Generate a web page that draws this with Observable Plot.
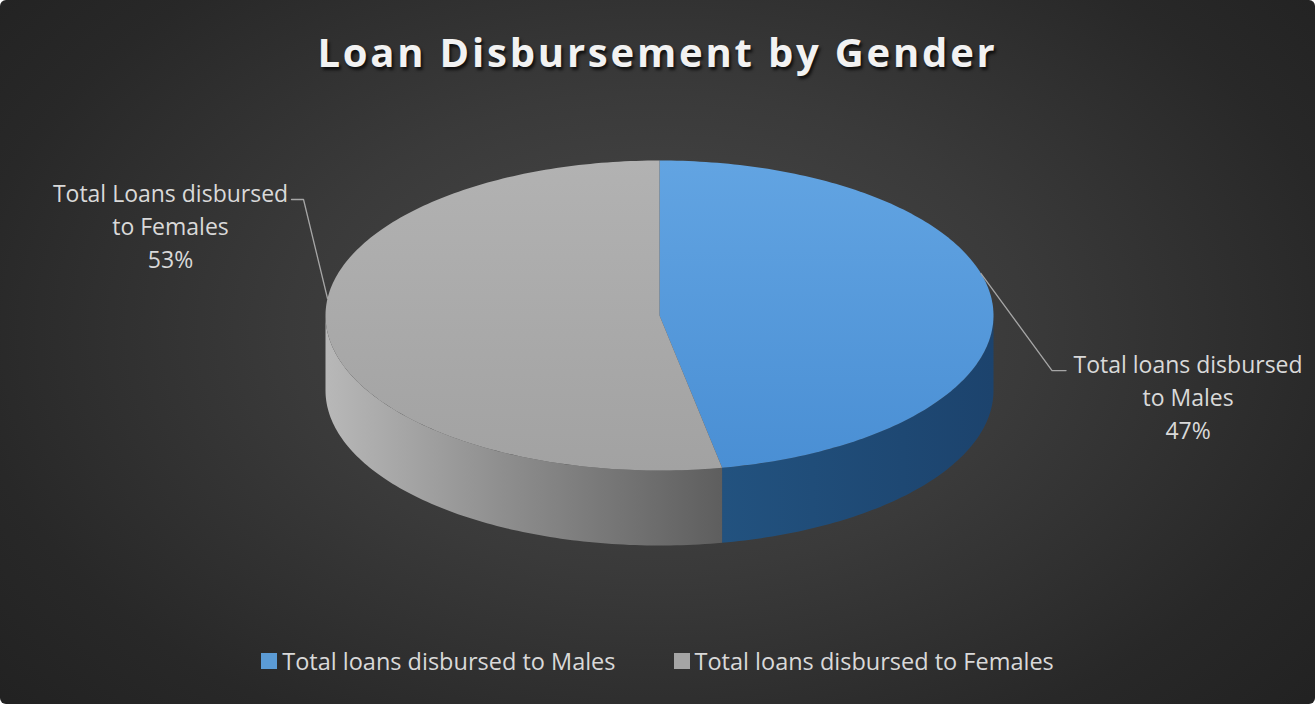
<!DOCTYPE html>
<html>
<head>
<meta charset="utf-8">
<script src="https://cdn.jsdelivr.net/npm/d3@7"></script>
<script src="https://cdn.jsdelivr.net/npm/@observablehq/plot@0.6"></script>
<style>
  html, body { margin: 0; padding: 0; background: #ffffff; }
  #chart {
    position: relative; width: 1315px; height: 704px; overflow: hidden; border-radius: 6px;
    background: radial-gradient(ellipse 70% 85% at 50% 47%, #4a4a4a 0%, #3a3a3a 40%, #282828 75%, #202020 100%);
    font-family: "Open Sans", sans-serif;
  }
  #title {
    height: 115px; box-sizing: border-box; padding-top: 32px; line-height: 40px;
    text-align: center; font-weight: 700; font-size: 40px; letter-spacing: 2.8px;
    color: #f2f2f2; text-shadow: 2px 3px 3px rgba(0,0,0,0.7);
  }
  #plot svg { display: block; }
  #legend {
    display: flex; justify-content: center; gap: 58px; padding-top: 19px;
    font-size: 23.5px; line-height: 24px; color: #d9d9d9;
  }
  .item { display: flex; align-items: center; }
  .sw { width: 16px; height: 16px; margin-right: 5px; }
</style>
</head>
<body>
<svg width="0" height="0" style="position:absolute">
  <defs>
    <linearGradient id="gTopM" x1="0" y1="0" x2="0" y2="1">
      <stop offset="0" stop-color="#62a4e2"/><stop offset="1" stop-color="#4a8fd4"/>
    </linearGradient>
    <linearGradient id="gTopF" x1="0" y1="0" x2="0" y2="1">
      <stop offset="0" stop-color="#b2b2b2"/><stop offset="1" stop-color="#a2a2a2"/>
    </linearGradient>
    <linearGradient id="gSideM" x1="0" y1="0" x2="1" y2="0">
      <stop offset="0" stop-color="#22527f"/><stop offset="1" stop-color="#1c436d"/>
    </linearGradient>
    <linearGradient id="gSideF" x1="0" y1="0" x2="1" y2="0">
      <stop offset="0" stop-color="#b8b8b8"/><stop offset="0.45" stop-color="#8e8e8e"/><stop offset="1" stop-color="#5e5e5e"/>
    </linearGradient>
    <filter id="blur" x="-20%" y="-20%" width="140%" height="140%">
      <feGaussianBlur stdDeviation="5"/>
    </filter>
  </defs>
</svg>
<div id="chart">
  <div id="title">Loan Disbursement by Gender</div>
  <div id="plot"></div>
  <div id="legend"></div>
</div>
<script>
// ---- data ----
const categories = ["Total loans disbursed to Males", "Total loans disbursed to Females"];
const shares = [47, 53];
const sliceLabels = ["Total loans disbursed\nto Males", "Total Loans disbursed\nto Females"];

// ---- styles ----
const swatchColors = ["#5b9bd5", "#a5a5a5"];
const topFills = ["url(#gTopM)", "url(#gTopF)"];
const sideFills = ["url(#gSideM)", "url(#gSideF)"];
// label layout (pixel offsets / angle nudges, degrees)
const labelLayout = [
  {nudge: -10.3, elbow: [71, 97], end: 14, text: [122, 25]},
  {nudge: 11.7, elbow: [-24, -99], end: -12, text: [-121, 25]}
];

const W = 1315, H = 515, mL = 325, mR = 322, mT = 45, mB = 160;
const RX = (W - mL - mR) / 2, RY = (H - mT - mB) / 2;
const DEPTH = 0.484;

const total = d3.sum(shares);
let acc = 0;
const slices = shares.map((v, i) => {
  const a0 = acc / total * 2 * Math.PI; acc += v;
  const a1 = acc / total * 2 * Math.PI;
  return {i, a0, a1, v};
});

function arcPts(a0, a1, yOff, id) {
  const n = Math.max(2, Math.ceil((a1 - a0) / (Math.PI / 180)));
  return d3.range(n + 1).map(k => {
    const a = a0 + (a1 - a0) * k / n;
    return {x: Math.sin(a), y: Math.cos(a) + yOff, id};
  });
}
const topPoly = s => [{x: 0, y: 0, id: s.i}, ...arcPts(s.a0, s.a1, 0, s.i)];
const sidePoly = s => {
  const b0 = Math.max(s.a0, Math.PI / 2), b1 = Math.min(s.a1, 3 * Math.PI / 2);
  if (b1 <= b0) return [];
  return [...arcPts(b0, b1, 0, s.i), ...arcPts(b0, b1, -DEPTH, s.i).reverse()];
};
const shadowPoly = [...arcPts(-Math.PI / 2, Math.PI / 2, -0.04, 0), ...arcPts(Math.PI / 2, 3 * Math.PI / 2, -DEPTH - 0.05, 0)];

// leader lines and labels
const leaders = [], labelPts = [];
slices.forEach((s, i) => {
  const L = labelLayout[i];
  const a = (s.a0 + s.a1) / 2 + L.nudge * Math.PI / 180;
  const rim = {x: Math.sin(a), y: Math.cos(a)};
  const elbow = {x: rim.x + L.elbow[0] / RX, y: rim.y - L.elbow[1] / RY};
  const end = {x: elbow.x + L.end / RX, y: elbow.y};
  leaders.push({...rim, id: i}, {...elbow, id: i}, {...end, id: i});
  labelPts.push({x: end.x + L.text[0] / RX, y: end.y - L.text[1] / RY,
    text: sliceLabels[i] + "\n" + s.v + "%"});
});

const marks = [
  Plot.line(shadowPoly, {x: "x", y: "y", fill: "#000", fillOpacity: 0.8, stroke: "none", ariaLabel: "shadow"})
];
slices.forEach(s => {
  const p = sidePoly(s);
  if (p.length) marks.push(Plot.line(p, {x: "x", y: "y", fill: sideFills[s.i], stroke: "none"}));
});
slices.forEach(s => {
  marks.push(Plot.line(topPoly(s), {x: "x", y: "y", fill: topFills[s.i], stroke: "none"}));
});
marks.push(Plot.line(leaders, {x: "x", y: "y", z: "id", stroke: "#a6a6a6", strokeWidth: 1.3}));
marks.push(Plot.text(labelPts, {x: "x", y: "y", text: "text", fill: "#d9d9d9", fontSize: 23,
  lineHeight: 1.44, textAnchor: "middle"}));

const svg = Plot.plot({
  width: W, height: H, marginLeft: mL, marginRight: mR, marginTop: mT, marginBottom: mB,
  x: {domain: [-1, 1], axis: null},
  y: {domain: [-1, 1], axis: null},
  style: {background: "transparent", overflow: "visible", fontFamily: "Open Sans"},
  marks
});
d3.select(svg).select('g[aria-label="shadow"]').attr("filter", "url(#blur)");
document.getElementById("plot").appendChild(svg);

// legend
const leg = d3.select("#legend");
categories.forEach((c, i) => {
  const it = leg.append("div").attr("class", "item");
  it.append("div").attr("class", "sw").style("background", swatchColors[i]);
  it.append("span").text(c);
});
</script>
</body>
</html>
